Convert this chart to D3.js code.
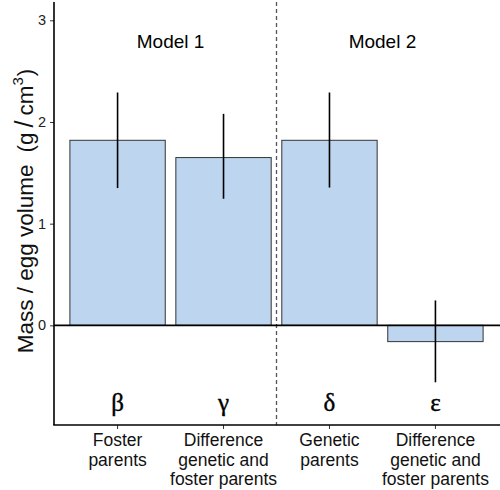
<!DOCTYPE html>
<html><head><meta charset="utf-8">
<script src="https://cdn.jsdelivr.net/npm/d3@7"></script>
<style>
html,body{margin:0;padding:0;background:#fff;}
svg{display:block;}
</style></head>
<body>
<svg id="chart" width="500" height="490"></svg>
<script>
const categories = ["Foster parents", "Difference genetic and foster parents", "Genetic parents", "Difference genetic and foster parents"];
const labelLines = [["Foster","parents"],["Difference","genetic and","foster parents"],["Genetic","parents"],["Difference","genetic and","foster parents"]];
const greek = ["β","γ","δ","ε"];
const values = [1.82, 1.65, 1.82, -0.16];
const lower = [1.35, 1.245, 1.355, -0.56];
const upper = [2.29, 2.08, 2.29, 0.245];
const yTicks = [0, 1, 2, 3];
const models = ["Model 1", "Model 2"];

(function(){
const svg = d3.select("#chart");
const pl = 54, pr = 499, pt = 2, pb = 425;

const x = d3.scaleBand().domain(d3.range(categories.length)).range([pl, pr]).paddingInner(0.1).paddingOuter(0.15);
const y = d3.scaleLinear().domain([-0.98, 3.18]).range([pb, pt]);

// dashed separator
const sepX = (x(1) + x.bandwidth() + x(2)) / 2;
svg.append("line").attr("x1", sepX).attr("x2", sepX).attr("y1", pt).attr("y2", pb)
  .attr("stroke", "#555").attr("stroke-width", 1.3).attr("stroke-dasharray", "4,3");

// bars
svg.selectAll("rect.bar").data(values).join("rect").attr("class","bar")
  .attr("x", (d,i) => x(i)).attr("width", x.bandwidth())
  .attr("y", d => y(Math.max(0,d))).attr("height", d => Math.abs(y(d) - y(0)))
  .attr("fill", "#bdd5ee").attr("stroke", "#333").attr("stroke-width", 1);

// zero line
svg.append("line").attr("x1", pl).attr("x2", 500).attr("y1", y(0)).attr("y2", y(0))
  .attr("stroke", "#000").attr("stroke-width", 1.6);

// error bars
svg.selectAll("line.err").data(values).join("line").attr("class","err")
  .attr("x1", (d,i) => x(i) + x.bandwidth()/2).attr("x2", (d,i) => x(i) + x.bandwidth()/2)
  .attr("y1", (d,i) => y(upper[i])).attr("y2", (d,i) => y(lower[i]))
  .attr("stroke", "#000").attr("stroke-width", 1.6);

// y axis
const yAxis = d3.axisLeft(y).tickValues(yTicks).tickSize(4).tickPadding(4).tickFormat(d3.format("d"));
const gy = svg.append("g").attr("transform", `translate(${pl},0)`).call(yAxis);
gy.select(".domain").remove();
gy.selectAll(".tick line").attr("stroke", "#333").attr("stroke-width", 1);
gy.selectAll(".tick text").attr("font-family", "Liberation Sans, Arial, sans-serif").attr("font-size", 14.5).attr("fill", "#222");
svg.append("line").attr("x1", pl).attr("x2", pl).attr("y1", pt).attr("y2", pb).attr("stroke", "#000").attr("stroke-width", 1.6);

// x axis
const xAxis = d3.axisBottom(x).tickSize(4).tickFormat("");
const gx = svg.append("g").attr("transform", `translate(0,${pb})`).call(xAxis);
gx.select(".domain").remove();
gx.selectAll(".tick line").attr("stroke", "#333").attr("stroke-width", 1);
svg.append("line").attr("x1", pl - 0.8).attr("x2", 500).attr("y1", pb).attr("y2", pb).attr("stroke", "#000").attr("stroke-width", 1.6);

// x labels (multi-line)
const xl = svg.selectAll("text.xl").data(labelLines).join("text").attr("class","xl")
  .attr("text-anchor", "middle").attr("font-family", "Liberation Sans, Arial, sans-serif")
  .attr("font-size", 17.5).attr("fill", "#111");
xl.each(function(lines, i){
  const t = d3.select(this);
  lines.forEach((ln, j) => {
    t.append("tspan").attr("x", x(i) + x.bandwidth()/2).attr("y", 446 + j*19.5).text(ln);
  });
});

// greek letters
svg.selectAll("text.gr").data(greek).join("text").attr("class","gr")
  .attr("x", (d,i) => x(i) + x.bandwidth()/2).attr("y", 411)
  .attr("text-anchor", "middle").attr("font-family", "Liberation Serif, Times New Roman, serif")
  .attr("font-size", 25).attr("fill", "#000").attr("stroke", "#000").attr("stroke-width", 0.4).text(d => d);

// model labels
svg.selectAll("text.model").data(models).join("text").attr("class","model")
  .attr("x", (d,i) => (x(2*i) + x(2*i+1) + x.bandwidth())/2).attr("y", 48)
  .attr("text-anchor", "middle").attr("font-family", "Liberation Sans, Arial, sans-serif")
  .attr("font-size", 19).attr("fill", "#000").text(d => d);

// y title
const yt = svg.append("text").attr("transform", `translate(32.5,211) rotate(-90)`)
  .attr("text-anchor", "middle").attr("font-family", "Liberation Sans, Arial, sans-serif")
  .attr("font-size", 22.5).attr("fill", "#111");
yt.append("tspan").text("Mass / egg volume");
yt.append("tspan").attr("dx", 12).text("(g");
yt.append("tspan").attr("font-size", 25).attr("dx", 5).text("/");
yt.append("tspan").attr("dx", 5).text("cm");
yt.append("tspan").attr("font-size", 15).attr("dy", -10).text("3");
yt.append("tspan").attr("dy", 10).attr("dx", 1).text(")");
})();
</script>
</body></html>
